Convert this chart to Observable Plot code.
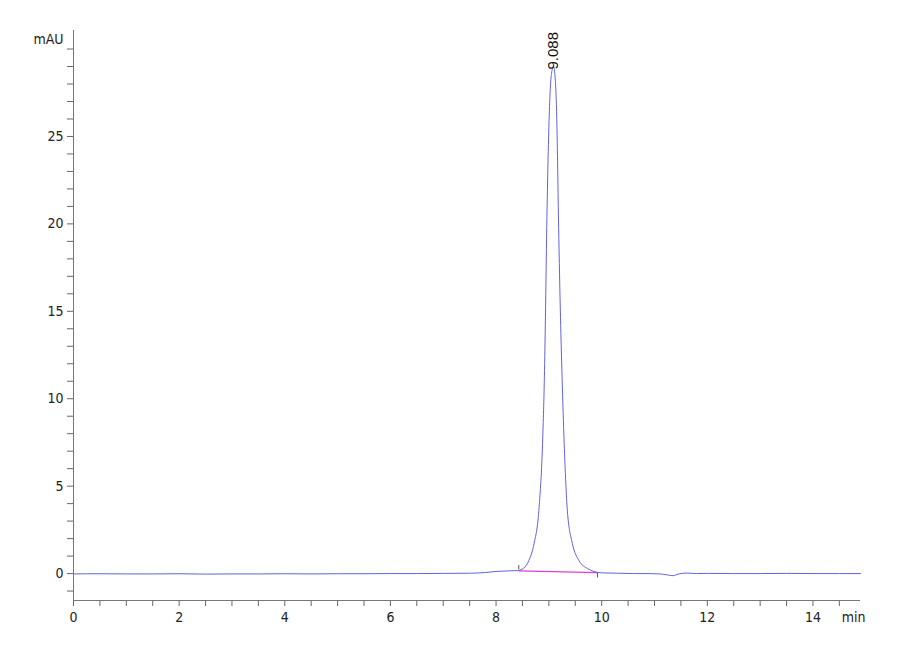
<!DOCTYPE html>
<html>
<head>
<meta charset="utf-8">
<script src="https://cdn.jsdelivr.net/npm/d3@7"></script>
<script src="https://cdn.jsdelivr.net/npm/@observablehq/plot@0.6"></script>
<style>
  html, body { margin: 0; padding: 0; background: #fff; }
  #chart { width: 900px; height: 660px; }
</style>
</head>
<body>
<div id="chart"></div>
<script>
// Retention time (min) and absorbance (mAU)
const times = [0, 0.5, 1, 1.5, 2, 2.5, 3, 3.5, 4, 4.5, 5, 5.5, 6, 6.5, 7, 7.5, 7.8, 8.0, 8.2, 8.4,
  8.52, 8.62, 8.72, 8.81, 8.88, 8.915, 8.935, 8.96, 9.01, 9.05, 9.088, 9.12, 9.15, 9.185, 9.22, 9.25, 9.29, 9.35,
  9.445, 9.57, 9.73, 9.85, 10.0, 10.3, 10.6, 10.9, 11.1, 11.25, 11.35, 11.45, 11.6, 11.8,
  12.0, 12.5, 13.0, 13.5, 14.0, 14.5, 14.9];
const absorbance = [-0.02, -0.01, -0.02, -0.02, -0.01, -0.03, -0.02, -0.02, -0.01, -0.02, -0.01, -0.01, 0.0, 0.0, 0.01, 0.02, 0.06, 0.12, 0.15, 0.17,
  0.3, 0.74, 1.72, 3.6, 7.44, 11.23, 14.66, 19.8, 26.5, 28.6, 29.0, 28.3, 26.0, 19.8, 14.66, 11.23, 7.44, 3.6,
  1.72, 0.74, 0.29, 0.12, 0.04, 0.02, 0.0, 0.0, -0.02, -0.08, -0.12, -0.03, 0.03, 0.0,
  0.01, 0.0, 0.0, 0.01, 0.0, 0.0, 0.0];

// Peak annotation
const peakTime = [9.088];
const peakHeight = [29.0];
const peakLabel = ["9.088"];

// Integration baseline (start / end)
const intTimes = [8.43, 9.92];
const intValues = [0.16, 0.05];

// Axis ticks
const xMinorTicks = d3.range(0, 15, 0.5);
const xLabeled = [0, 2, 4, 6, 8, 10, 12, 14];
const yMinorTicks = d3.range(-1, 31, 1);
const yLabeled = [0, 5, 10, 15, 20, 25];

const xDomain = [0, 14.9];
const yDomain = [-1.54, 31.06];

const trace = times.map((t, i) => ({t, v: absorbance[i]}));
const integ = intTimes.map((t, i) => ({t, v: intValues[i]}));

const tickFont = "'Liberation Sans Narrow', 'Arial Narrow', 'DejaVu Sans Condensed', sans-serif";

const chart = Plot.plot({
  width: 900,
  height: 660,
  marginLeft: 73,
  marginTop: 30,
  marginBottom: 60,
  marginRight: 40,
  style: {fontFamily: tickFont, fontSize: "14px", color: "#222", background: "#fff"},
  x: {domain: xDomain},
  y: {domain: yDomain},
  marks: [
    Plot.axisX({
      ticks: xMinorTicks,
      tickSize: 6,
      tickPadding: 6,
      stroke: "#666",
      tickFormat: d => xLabeled.includes(d) ? String(d) : "",
      label: null,
      fontSize: 14
    }),
    Plot.axisY({
      ticks: yMinorTicks,
      tickSize: 6,
      tickPadding: 4,
      stroke: "#666",
      tickFormat: d => yLabeled.includes(d) ? String(d) : "",
      label: null,
      fontSize: 14
    }),
    Plot.ruleX([xDomain[0]], {stroke: "#777", strokeWidth: 1}),
    Plot.ruleY([yDomain[0]], {stroke: "#777", strokeWidth: 1}),
    Plot.text(["mAU"], {frameAnchor: "top-left", dx: -10, dy: 4, textAnchor: "end", fontSize: 14, fill: "#222"}),
    Plot.text(["min"], {frameAnchor: "bottom-right", dx: -7, dy: 21, textAnchor: "middle", fontSize: 14, fill: "#222"}),
    // integration baseline
    Plot.line(integ, {x: "t", y: "v", stroke: "#e040d0", strokeWidth: 1.2}),
    Plot.ruleX([intTimes[0]], {y1: intValues[0] + 0.05, y2: intValues[0] + 0.3, stroke: "#555", strokeWidth: 1}),
    Plot.ruleX([intTimes[1]], {y1: intValues[1] - 0.05, y2: intValues[1] - 0.3, stroke: "#555", strokeWidth: 1}),
    // chromatogram trace
    Plot.line(trace, {x: "t", y: "v", stroke: "#6262e0", strokeWidth: 1, curve: "monotone-x"}),
    // peak label
    Plot.text(peakTime, {
      x: d => d,
      y: (d, i) => peakHeight[i],
      text: (d, i) => peakLabel[i],
      rotate: -90,
      textAnchor: "start",
      dy: 3,
      fontSize: 15,
      fontFamily: "'Liberation Sans', Arial, sans-serif",
      fill: "#111"
    })
  ]
});

document.getElementById("chart").appendChild(chart);
</script>
</body>
</html>
